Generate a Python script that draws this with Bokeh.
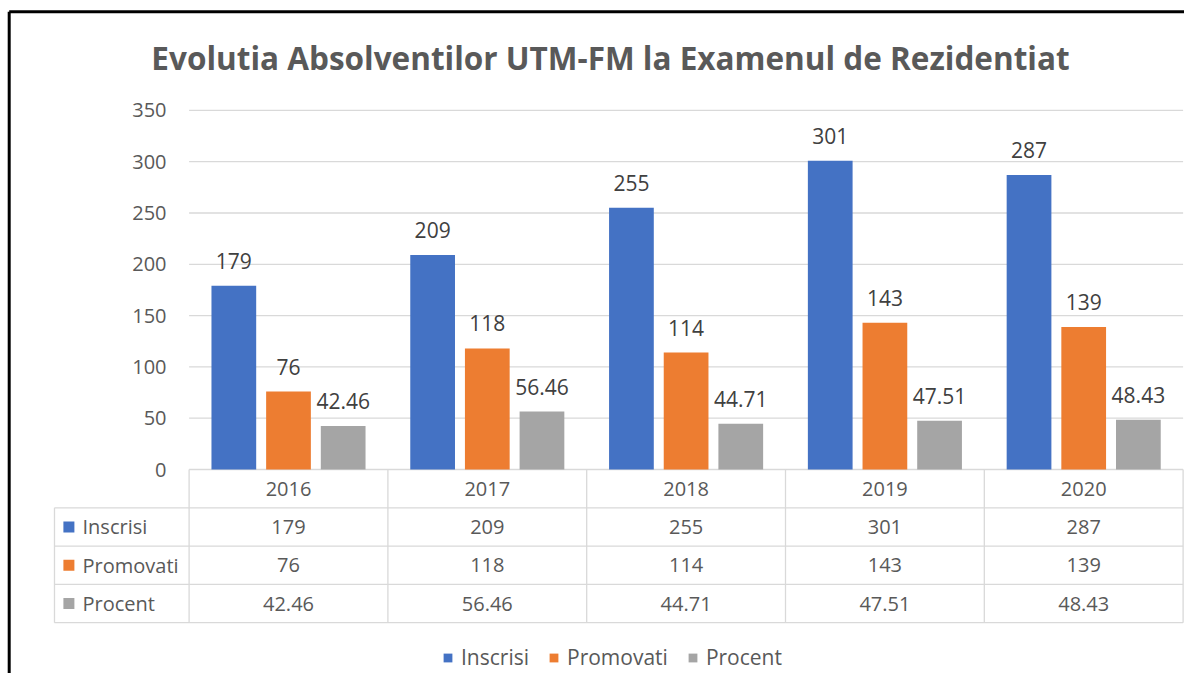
from bokeh.plotting import figure
from bokeh.models import ColumnDataSource, Range1d, Label, Legend, LegendItem
from bokeh.transform import dodge
from bokeh.core.properties import value
from bokeh.embed import file_html
from bokeh.resources import INLINE

# ---------------- data ----------------
years = ["2016", "2017", "2018", "2019", "2020"]
inscrisi = [179, 209, 255, 301, 287]
promovati = [76, 118, 114, 143, 139]
procent = [42.46, 56.46, 44.71, 47.51, 48.43]
series_names = ["Inscrisi", "Promovati", "Procent"]
y_ticks = [0, 50, 100, 150, 200, 250, 300, 350]
title_text = "Evolutia Absolventilor UTM-FM la Examenul de Rezidentiat"

# ---------------- style ----------------
colors = ["#4472C4", "#ED7D31", "#A5A5A5"]
FONT = "Open Sans"
TXT = "#595959"
LBL = "#404040"
GRID = "#D9D9D9"

W, H = 1184, 673
PX0, CW = 288.0, 198.8        # px of first category centre, px per category
PY0, K = 469.0, 51.3 / 50.0   # px of value 0, px per value unit


def X(px):
    return (px - PX0) / CW


def Y(py):
    return (PY0 - py) / K


p = figure(width=W, height=H,
           x_range=Range1d(X(0), X(W)),
           y_range=Range1d(Y(H), Y(0)),
           output_backend="svg", toolbar_location=None, min_border=0,
           x_axis_location=None, y_axis_location=None)
p.grid.visible = False
p.outline_line_color = None
p.background_fill_color = "white"
p.border_fill_color = "white"

n = len(years)
xs = list(range(n))
src = ColumnDataSource(dict(
    x=xs, year=years,
    s0=inscrisi, s1=promovati, s2=procent,
    l0=[str(v) for v in inscrisi],
    l1=[str(v) for v in promovati],
    l2=[f"{v:.2f}" for v in procent],
))

# chart border (left and top edges; right/bottom fall outside the picture)
p.segment(x0=[X(8.7), X(8.7)], x1=[X(8.7), X(W + 20)],
          y0=[Y(11.3), Y(11.3)], y1=[Y(H + 20), Y(11.3)],
          line_color="black", line_width=3)

# gridlines
p.segment(x0=[-0.5] * len(y_ticks), x1=[n - 0.5] * len(y_ticks),
          y0=y_ticks, y1=y_ticks, line_color=GRID, line_width=1.3)

# y tick labels
p.text(x=[X(166)] * len(y_ticks), y=y_ticks, text=[str(t) for t in y_ticks],
       text_align="right", text_baseline="middle",
       text_font=value(FONT), text_font_size="20px", text_color=TXT)

# bars + data labels
offsets = [-0.275, 0.0, 0.275]
bar_w = 0.225
bar_renderers = []
for i in range(3):
    r = p.vbar(x=dodge("x", offsets[i]), top=f"s{i}", bottom=0, width=bar_w,
               source=src, fill_color=colors[i], line_color=None)
    bar_renderers.append(r)
    p.text(x=dodge("x", offsets[i]), y=f"s{i}", text=f"l{i}", source=src,
           y_offset=-25, text_align="center", text_baseline="middle",
           text_font=value(FONT), text_font_size="21px", text_color=LBL)

# ---------------- data table ----------------
row_h = 38.3
table_left = X(54)
rows_bottom = Y(PY0 + 4 * row_h)
hy = [Y(PY0 + k * row_h) for k in range(1, 5)]
p.segment(x0=[table_left] * 4, x1=[n - 0.5] * 4, y0=hy, y1=hy,
          line_color=GRID, line_width=1.3)
vx = [j - 0.5 for j in range(n + 1)]
p.segment(x0=vx, x1=vx, y0=[Y(PY0)] * len(vx), y1=[rows_bottom] * len(vx),
          line_color=GRID, line_width=1.3)
p.segment(x0=[table_left], x1=[table_left], y0=[Y(PY0 + row_h)], y1=[rows_bottom],
          line_color=GRID, line_width=1.3)

# header row (years)
p.text(x=xs, y=[Y(PY0 + 0.5 * row_h)] * n, text=years,
       text_align="center", text_baseline="middle",
       text_font=value(FONT), text_font_size="20px", text_color=TXT)
# value rows
for i in range(3):
    p.text(x="x", y=value(Y(PY0 + (i + 1.5) * row_h)), text=f"l{i}", source=src,
           text_align="center", text_baseline="middle",
           text_font=value(FONT), text_font_size="20px", text_color=TXT)
# row labels with keys
row_y = [Y(PY0 + (i + 1.5) * row_h) for i in range(3)]
p.scatter(x=[X(68.4)] * 3, y=row_y, marker="square", size=11,
          fill_color=colors, line_color=None)
p.text(x=[X(82)] * 3, y=row_y, text=series_names,
       text_align="left", text_baseline="middle",
       text_font=value(FONT), text_font_size="20px", text_color=TXT)

# ---------------- legend ----------------
legend = Legend(items=[LegendItem(label=series_names[i], renderers=[bar_renderers[i]])
                       for i in range(3)],
                orientation="horizontal", location=(442, 2),
                padding=0, margin=0, spacing=19, label_standoff=8,
                glyph_width=11, glyph_height=11,
                label_text_font=FONT, label_text_font_size="21px",
                label_text_color=TXT, border_line_color=None,
                background_fill_alpha=0)
p.add_layout(legend)

# ---------------- title ----------------
p.add_layout(Label(x=X(610), y=Y(57), text=title_text,
                   text_align="center", text_baseline="middle",
                   text_font=FONT, text_font_size="31.5px", text_font_style="bold",
                   text_color=TXT))

open("out.html", "w").write(file_html(p, INLINE))
